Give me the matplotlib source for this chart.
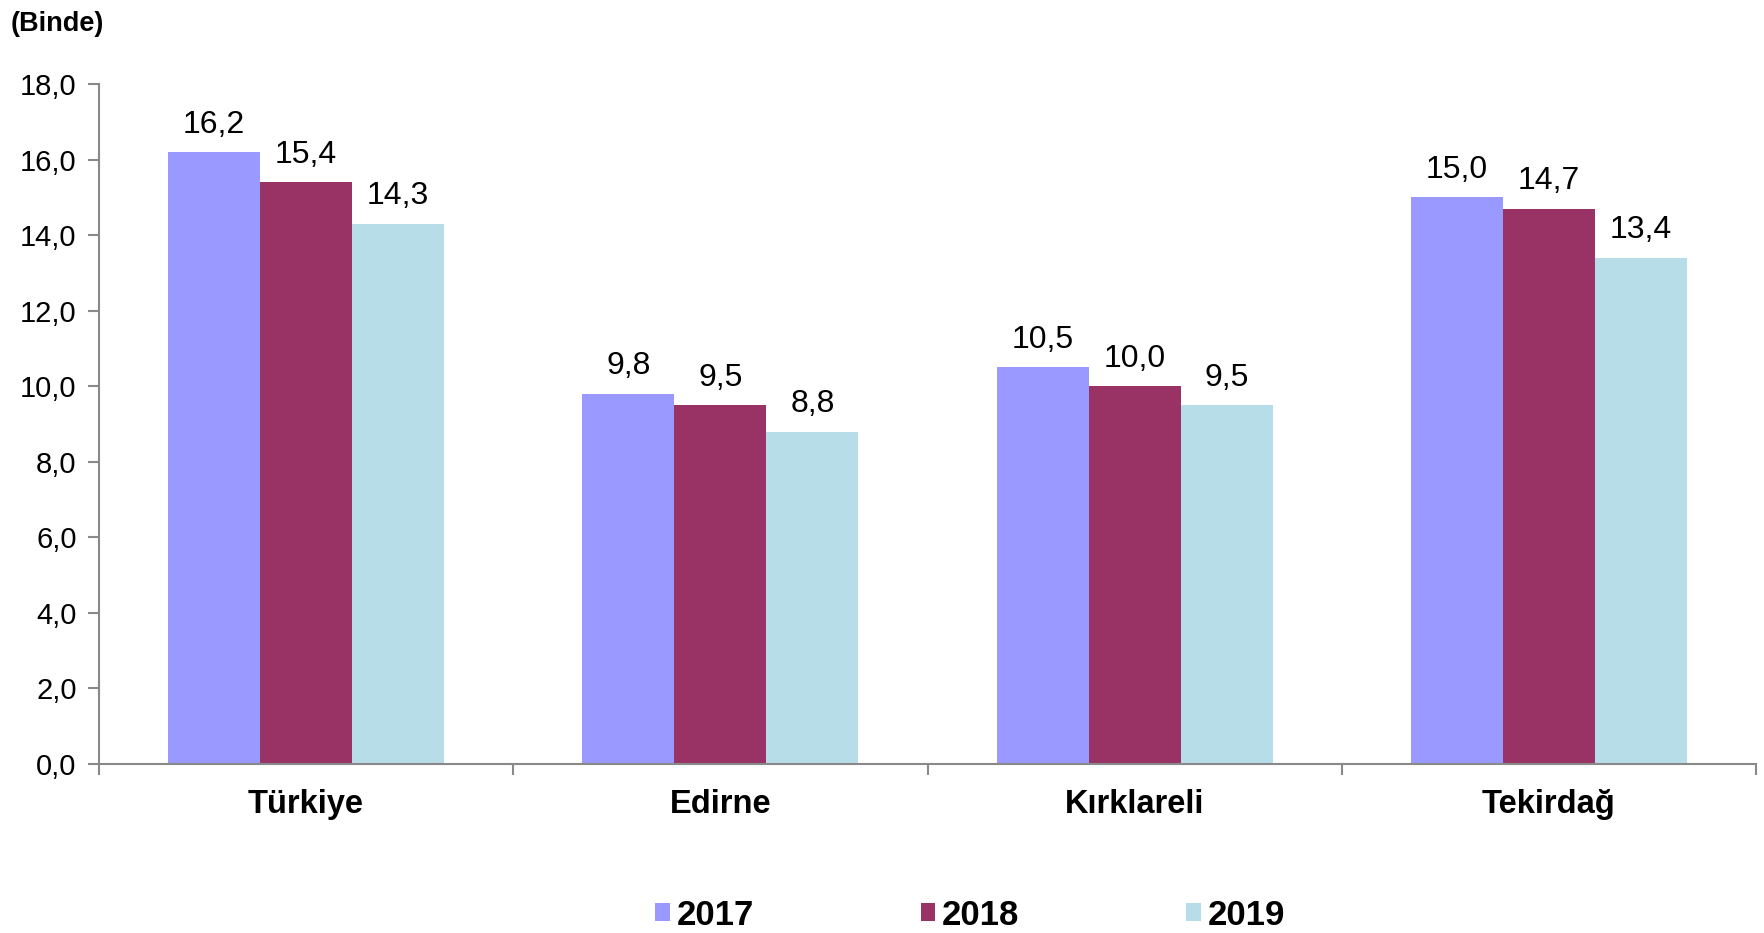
import matplotlib
matplotlib.use("Agg")
import matplotlib.pyplot as plt
import numpy as np
from matplotlib.patches import Patch

categories = ["Türkiye", "Edirne", "Kırklareli", "Tekirdağ"]
years = ["2017", "2018", "2019"]
v2017 = [16.2, 9.8, 10.5, 15.0]
v2018 = [15.4, 9.5, 10.0, 14.7]
v2019 = [14.3, 8.8, 9.5, 13.4]
colors = ["#9999FF", "#993366", "#B7DEE8"]

plt.rcParams['font.family'] = ['Liberation Sans', 'DejaVu Sans']

fig = plt.figure(figsize=(17.64, 9.33), dpi=100)
ax = fig.add_axes([0.0561, 0.1811, 0.9394, 0.7289])

x = np.arange(len(categories))
w = 0.222
series = [v2017, v2018, v2019]
for i, (vals, c) in enumerate(zip(series, colors)):
    pos = x + (i - 1) * w
    ax.bar(pos, vals, width=w, color=c, edgecolor='none', zorder=2)
    for xp, v in zip(pos, vals):
        ax.text(xp, v + 0.33, f"{v:.1f}".replace('.', ','), ha='center', va='bottom',
                fontsize=23, color='black')

ax.set_xlim(-0.5, len(categories) - 0.5)
ax.set_ylim(0, 18)
yt = np.arange(0, 18.1, 2)
ax.set_yticks(yt)
ax.set_yticklabels([f"{t:.1f}".replace('.', ',') for t in yt], fontsize=21)

ax.set_xticks(np.arange(-0.5, len(categories), 1))
ax.set_xticklabels([])
ax.set_xticks(x, minor=True)
ax.set_xticklabels(categories, minor=True, fontsize=23.5, fontweight='bold')
ax.tick_params(axis='x', which='minor', length=0, pad=18)
ax.tick_params(axis='x', which='major', length=8, color='#898989', width=1.5, direction='out')
ax.tick_params(axis='y', length=8, color='#898989', width=1.5, direction='out', pad=8)

for s in ['top', 'right']:
    ax.spines[s].set_visible(False)
for s in ['left', 'bottom']:
    ax.spines[s].set_color('#898989')
    ax.spines[s].set_linewidth(1.5)

fig.text(0.006, 0.988, "(Binde)", fontsize=19.5, fontweight='bold', ha='left', va='top')

handles = [Patch(facecolor=c, edgecolor='none') for c in colors]
fig.legend(handles, years, loc='center', bbox_to_anchor=(0.55, 0.019),
           ncol=3, frameon=False, columnspacing=4.8,
           handlelength=0.42, handleheight=0.42, handletextpad=0.2,
           borderpad=0, prop={'weight': 'bold', 'size': 25})

fig.savefig("out.png", dpi=100)
